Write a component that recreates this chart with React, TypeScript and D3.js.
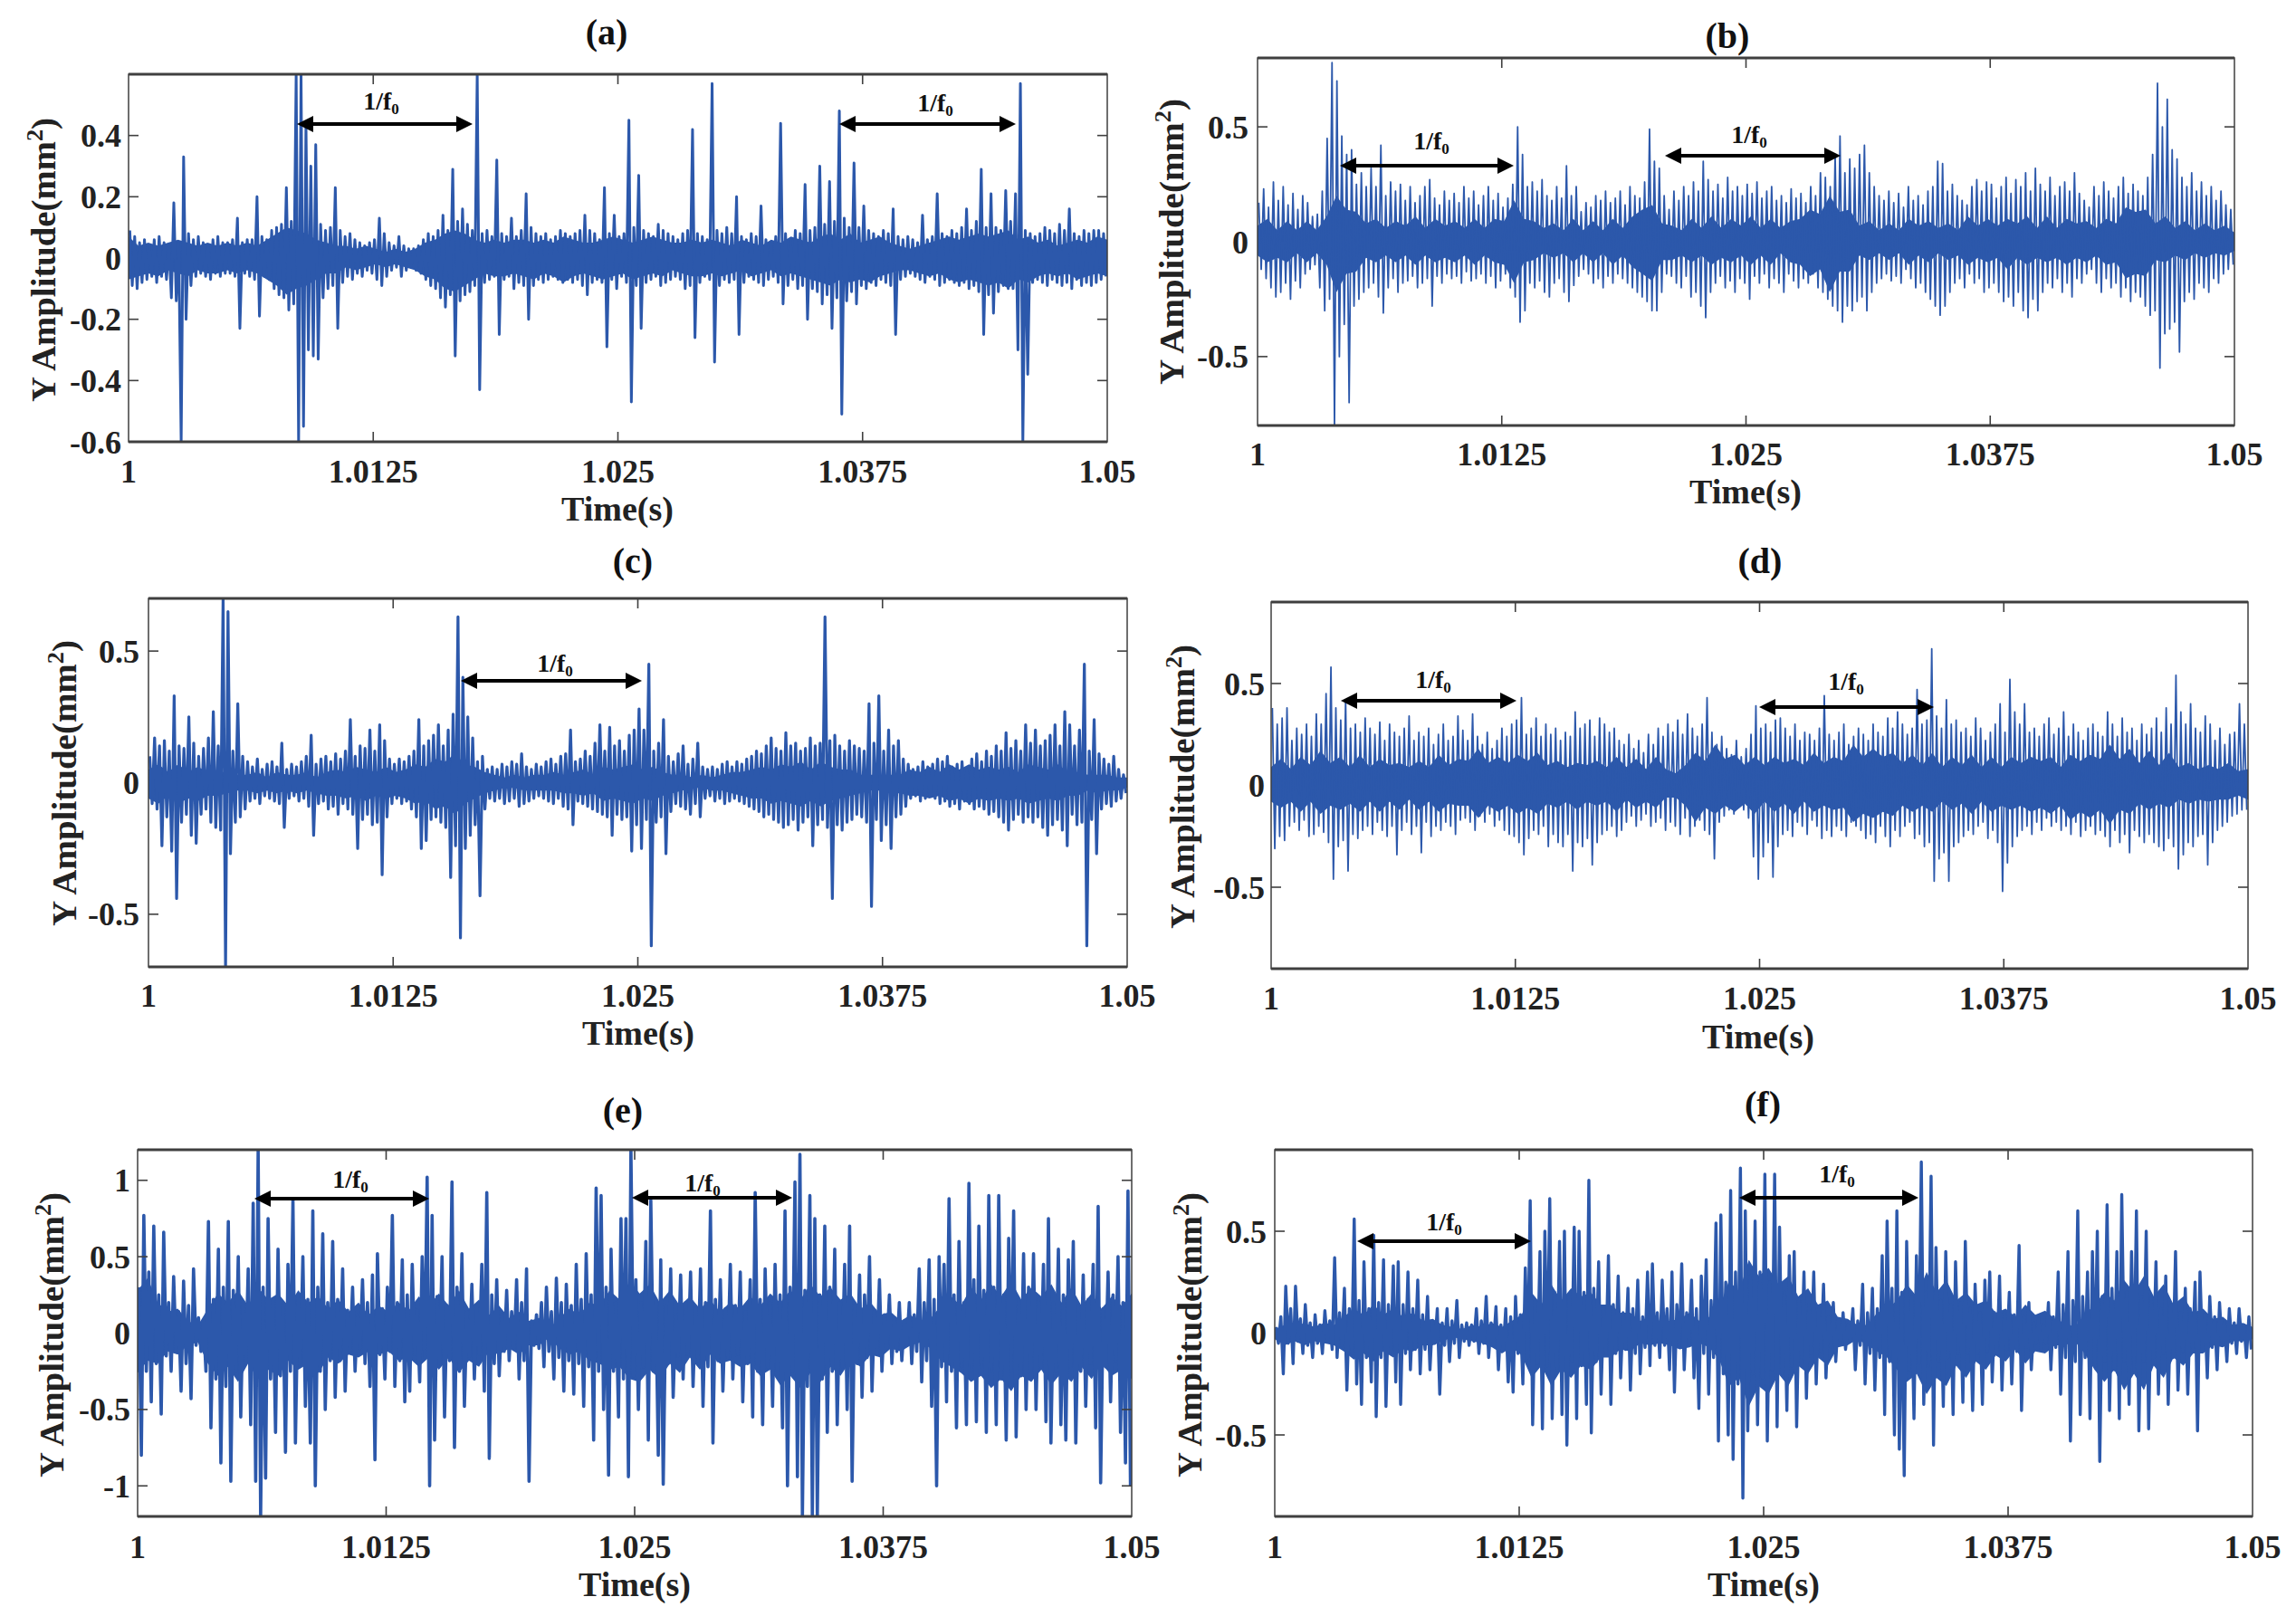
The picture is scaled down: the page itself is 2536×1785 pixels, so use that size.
import React from "react";
import * as d3 from "d3";

// Amplitudes are in units of 0.01 mm^2, one high/low pair per time bin (200 bins over 1..1.05 s)
const aHigh = [9,7,5,6,4,6,7,5,4,18,5,33,8,6,7,5,4,6,7,5,
5,6,13,5,6,6,20,7,6,9,10,11,23,12,60,60,44,30,37,11,
9,10,23,9,7,8,6,5,4,5,6,13,8,5,4,7,4,3,3,4,
6,8,7,9,14,9,29,12,16,11,9,60,8,9,7,32,8,7,13,7,
9,21,10,8,7,8,6,7,9,8,7,8,9,14,9,8,6,23,8,14,
7,8,45,10,27,9,8,7,11,9,8,7,6,8,9,42,8,7,6,57,
9,8,10,8,20,7,6,8,7,17,6,5,7,44,8,6,9,8,24,9,
10,30,11,25,12,48,13,10,31,10,17,9,8,7,9,8,16,7,6,7,
6,5,14,6,7,21,8,7,9,8,10,16,9,12,29,10,21,10,9,22,
12,21,57,9,8,7,8,10,9,8,11,9,16,8,7,9,8,9,9,8];
const aLow = [-9,-10,-8,-7,-6,-8,-6,-7,-13,-14,-60,-20,-9,-6,-5,-6,-7,-5,-6,-5,
-5,-6,-23,-5,-6,-7,-19,-6,-7,-10,-12,-13,-17,-15,-60,-55,-30,-32,-33,-13,
-10,-9,-23,-8,-6,-7,-5,-6,-4,-5,-7,-9,-6,-4,-3,-6,-4,-3,-4,-5,
-7,-9,-10,-13,-16,-12,-32,-14,-12,-11,-9,-43,-8,-7,-6,-25,-7,-6,-10,-8,
-9,-20,-9,-7,-8,-7,-6,-7,-8,-7,-8,-7,-9,-12,-8,-7,-8,-29,-7,-10,
-6,-8,-47,-9,-23,-8,-7,-6,-9,-8,-7,-6,-7,-10,-9,-26,-8,-6,-7,-34,
-9,-7,-8,-7,-25,-8,-6,-7,-8,-9,-7,-6,-8,-15,-9,-7,-10,-9,-20,-10,
-11,-15,-12,-23,-13,-51,-14,-11,-15,-9,-10,-8,-9,-7,-8,-9,-25,-7,-6,-5,
-6,-7,-8,-6,-7,-9,-8,-7,-8,-9,-8,-10,-9,-11,-25,-12,-18,-11,-9,-10,
-10,-30,-60,-38,-8,-7,-8,-9,-7,-8,-9,-8,-10,-7,-9,-8,-9,-8,-7,-6];
const aCoreHigh = [7,4,5,4,5,6,5,4,5,4,5,4,5,4,6,8,10,9,8,6,5,4,4,3,4,3,2,3,2,3,5,6,8,9,8,6,5,6,5,6,6,5,6,5,7,6,5,5,6,7,6,5,6,7,6,5,5,6,5,6,5,4,6,5,4,6,5,7,6,5,7,8,6,8,5,6,7,5,4,3,4,5,6,7,6,7,8,7,8,9,6,7,5,6,4,5,6,5,7,6];
const aCoreLow = [-7,-6,-5,-6,-4,-5,-6,-4,-5,-5,-4,-5,-4,-5,-7,-9,-12,-10,-9,-7,-5,-5,-3,-4,-3,-2,-3,-2,-3,-4,-6,-7,-10,-11,-9,-7,-5,-6,-6,-5,-6,-7,-5,-6,-8,-6,-5,-6,-7,-6,-5,-7,-6,-5,-6,-4,-5,-6,-6,-5,-6,-5,-4,-6,-5,-4,-6,-5,-6,-7,-8,-9,-7,-8,-7,-8,-6,-5,-4,-4,-5,-6,-5,-7,-8,-7,-8,-9,-8,-10,-7,-8,-6,-5,-6,-5,-7,-6,-5,-6];

const bHigh = [17,23,15,26,18,24,16,21,14,20,17,11,12,22,45,78,70,46,38,40,
25,30,24,32,24,42,20,26,22,25,18,24,17,20,24,27,19,16,22,18,
21,17,24,19,22,16,20,24,18,21,15,19,25,50,38,24,26,22,27,20,
18,24,19,33,20,24,13,17,15,20,18,22,17,19,22,16,24,20,19,26,
49,35,32,20,14,22,18,24,20,26,22,35,27,22,25,19,28,22,24,20,
25,21,26,19,22,24,18,20,17,23,19,21,17,24,20,30,28,24,38,46,
30,36,32,38,42,30,24,20,18,22,17,21,15,24,18,20,16,22,24,35,
34,22,25,20,18,16,24,27,22,26,25,19,24,28,21,27,24,30,22,32,
25,22,28,20,24,26,22,30,21,18,15,24,20,26,22,19,24,28,21,25,
22,20,28,38,69,50,62,40,36,28,24,30,22,26,20,24,18,22,16,14];
const bLow = [-12,-16,-20,-24,-22,-18,-25,-17,-20,-14,-12,-10,-20,-30,-25,-80,-50,-36,-70,-28,
-25,-22,-20,-18,-24,-31,-20,-16,-22,-18,-17,-15,-20,-18,-16,-28,-15,-18,-14,-16,
-15,-18,-13,-17,-16,-14,-18,-15,-20,-17,-14,-20,-24,-35,-30,-18,-20,-17,-22,-24,
-18,-16,-22,-26,-19,-15,-12,-14,-18,-16,-20,-15,-18,-14,-16,-18,-20,-22,-24,-26,
-30,-30,-22,-14,-15,-18,-20,-15,-24,-22,-28,-33,-22,-18,-15,-20,-17,-22,-16,-18,
-25,-15,-18,-14,-20,-16,-18,-22,-14,-17,-20,-16,-18,-14,-20,-22,-25,-28,-30,-35,
-28,-30,-26,-24,-30,-22,-18,-16,-14,-17,-15,-18,-12,-16,-20,-18,-22,-25,-28,-32,
-28,-22,-18,-16,-20,-14,-18,-16,-22,-20,-18,-22,-26,-24,-28,-22,-30,-33,-25,-30,
-22,-18,-20,-16,-22,-18,-24,-16,-18,-14,-12,-18,-22,-16,-20,-18,-24,-20,-26,-22,
-24,-28,-32,-30,-55,-40,-38,-35,-48,-26,-22,-25,-18,-20,-22,-16,-18,-14,-12,-10];
const bCoreHigh = [7,10,5,9,5,9,5,11,20,14,13,8,10,6,9,7,11,6,10,7,9,6,10,6,10,9,18,10,9,6,8,5,10,5,9,5,10,6,11,14,16,8,7,5,10,6,11,6,10,7,11,6,10,6,9,10,14,12,20,13,14,7,9,5,8,5,10,7,9,6,8,5,11,7,10,7,10,8,11,6,11,6,10,8,9,6,10,8,15,13,14,8,11,6,9,5,8,5,7,4];
const bCoreLow = [-6,-9,-7,-9,-5,-9,-5,-10,-22,-14,-13,-7,-9,-6,-9,-6,-10,-6,-9,-7,-9,-6,-10,-6,-9,-10,-18,-9,-8,-5,-7,-5,-9,-5,-9,-5,-10,-6,-11,-14,-17,-8,-8,-6,-9,-6,-10,-7,-9,-6,-10,-6,-10,-5,-9,-10,-15,-12,-22,-13,-13,-6,-8,-5,-8,-5,-10,-6,-9,-5,-8,-6,-10,-7,-9,-7,-12,-7,-10,-7,-9,-7,-10,-7,-9,-6,-10,-9,-16,-14,-15,-8,-9,-6,-8,-5,-7,-5,-6,-4];

const cHigh = [10,17,14,16,12,33,14,13,25,15,10,13,17,27,14,70,65,12,30,10,
8,6,9,5,7,8,6,15,5,7,6,8,10,18,7,9,10,8,11,9,
12,24,10,14,13,20,12,22,16,9,7,9,8,10,12,24,14,16,18,22,
14,20,26,63,40,25,17,8,10,5,6,5,7,6,8,7,11,6,5,7,
6,8,9,7,10,11,20,8,9,12,10,15,22,12,21,14,16,12,18,20,
28,20,45,12,15,24,10,8,11,14,7,9,15,6,5,6,5,7,8,6,
8,7,9,10,12,11,14,17,13,12,19,14,15,12,13,17,14,15,63,16,
18,14,12,16,14,13,12,30,15,33,12,20,14,16,9,7,5,6,8,6,
7,9,8,10,6,7,8,5,9,11,8,12,10,14,12,19,13,16,12,22,
15,20,14,16,18,22,14,27,22,14,20,45,12,24,11,9,7,10,5,3];
const cLow = [-8,-10,-24,-13,-26,-44,-15,-12,-20,-23,-12,-10,-15,-17,-18,-70,-27,-15,-13,-10,
-7,-6,-8,-5,-6,-7,-8,-17,-6,-5,-7,-6,-9,-20,-8,-7,-10,-9,-12,-8,
-10,-12,-25,-14,-12,-16,-15,-35,-13,-8,-6,-8,-7,-10,-13,-25,-22,-14,-13,-15,
-17,-36,-24,-59,-25,-20,-16,-43,-10,-6,-7,-6,-8,-7,-6,-9,-8,-7,-6,-5,
-6,-7,-8,-6,-9,-10,-16,-7,-8,-9,-10,-11,-12,-13,-20,-12,-14,-13,-26,-16,
-25,-14,-62,-15,-13,-27,-11,-8,-9,-10,-12,-8,-13,-6,-5,-7,-6,-8,-7,-6,
-7,-8,-9,-10,-11,-13,-12,-14,-15,-17,-16,-14,-18,-15,-13,-24,-16,-14,-17,-44,
-16,-18,-15,-14,-12,-13,-15,-47,-14,-22,-16,-25,-13,-12,-9,-6,-5,-7,-6,-5,
-6,-8,-7,-9,-8,-10,-7,-8,-10,-9,-10,-12,-11,-13,-15,-18,-14,-12,-15,-13,
-15,-13,-17,-20,-16,-14,-18,-24,-12,-16,-15,-62,-14,-27,-10,-8,-9,-7,-6,-4];
const cCoreHigh = [5,7,4,7,4,6,4,4,4,3,3,4,2,4,3,3,4,2,4,5,4,6,5,4,6,4,5,7,6,9,8,11,7,6,4,3,2,3,2,3,3,4,3,4,5,3,6,5,6,7,5,6,4,3,3,2,3,2,3,4,4,5,6,5,7,6,8,5,8,6,5,5,3,3,3,3,3,5,4,6,4,7,5,7,5,6,5,6,4,7,6,5,7,4,4,3,3,3,2,2];
const cCoreLow = [-6,-8,-5,-8,-6,-7,-5,-5,-4,-3,-3,-4,-3,-4,-3,-4,-3,-4,-5,-5,-6,-5,-7,-5,-6,-5,-6,-8,-7,-10,-9,-12,-8,-6,-4,-3,-2,-2,-3,-3,-3,-3,-4,-4,-5,-4,-7,-6,-7,-8,-6,-7,-5,-4,-3,-2,-2,-3,-3,-4,-5,-6,-6,-8,-7,-8,-9,-7,-9,-7,-6,-5,-4,-3,-3,-4,-4,-5,-5,-6,-5,-7,-6,-8,-6,-7,-6,-7,-6,-8,-7,-6,-7,-5,-5,-3,-4,-3,-3,-2];

const dHigh = [38,30,33,38,22,28,25,30,24,35,30,45,58,38,32,42,28,30,26,33,
28,25,31,22,30,26,24,28,34,22,26,24,28,20,25,30,22,24,34,27,
22,35,24,20,26,18,22,28,24,30,32,43,25,28,33,24,30,25,28,22,
26,24,36,28,30,32,24,33,30,26,28,22,20,25,18,22,16,25,20,28,
24,30,26,32,25,35,28,24,30,43,26,20,24,18,15,22,14,18,25,39,
28,30,26,32,33,28,24,30,22,26,25,22,28,44,25,22,26,30,20,24,
28,25,22,30,26,24,33,28,36,30,25,28,47,30,32,67,34,28,42,30,
32,26,28,24,33,28,22,26,30,40,26,52,36,30,40,26,28,24,30,33,
25,28,36,24,30,26,22,28,30,26,24,36,30,24,33,26,28,22,30,25,
28,33,26,38,30,54,36,30,40,28,26,34,30,22,28,20,25,26,40,30];
const dLow = [-31,-25,-27,-20,-18,-22,-17,-25,-24,-20,-23,-28,-46,-30,-27,-42,-24,-26,-22,-20,
-24,-18,-22,-25,-20,-34,-22,-18,-24,-20,-33,-18,-25,-20,-22,-18,-20,-24,-17,-16,
-18,-22,-15,-18,-14,-20,-17,-22,-24,-25,-28,-34,-26,-22,-24,-20,-30,-24,-28,-30,
-24,-42,-28,-30,-26,-39,-28,-24,-22,-20,-25,-22,-18,-15,-20,-17,-14,-20,-18,-16,
-22,-18,-20,-24,-16,-25,-20,-17,-22,-24,-36,-18,-15,-12,-14,-10,-12,-16,-35,-46,
-35,-28,-45,-30,-24,-22,-25,-18,-20,-24,-17,-20,-26,-22,-25,-20,-22,-25,-18,-20,
-22,-26,-24,-28,-20,-25,-30,-22,-25,-20,-18,-26,-24,-30,-28,-47,-36,-33,-47,-30,
-28,-25,-22,-24,-20,-18,-26,-22,-28,-52,-38,-30,-25,-22,-20,-24,-18,-22,-16,-20,
-18,-22,-20,-24,-18,-25,-22,-20,-24,-22,-25,-30,-22,-28,-24,-33,-22,-25,-28,-24,
-28,-30,-32,-26,-30,-41,-34,-28,-30,-25,-24,-39,-28,-22,-20,-18,-15,-14,-12,-12];
const dCoreHigh = [9,13,8,14,10,17,11,14,9,15,9,13,10,11,9,12,9,15,10,13,12,18,11,14,11,15,12,16,10,12,9,11,10,12,9,14,9,13,8,14,8,6,10,16,12,20,13,15,10,14,10,14,11,13,10,16,11,14,12,20,14,18,14,16,11,15,10,16,9,14,10,15,9,14,9,14,11,14,12,14,9,15,12,15,13,20,13,18,11,17,10,16,9,11,8,10,8,11,7,8];
const dCoreLow = [-8,-11,-8,-13,-8,-14,-10,-12,-9,-13,-8,-13,-8,-12,-7,-12,-8,-13,-9,-10,-10,-16,-10,-13,-10,-14,-11,-14,-9,-11,-8,-12,-8,-10,-8,-13,-7,-11,-8,-11,-6,-6,-10,-18,-11,-14,-10,-13,-9,-14,-8,-13,-9,-14,-8,-13,-10,-12,-11,-18,-14,-16,-13,-15,-10,-13,-10,-13,-8,-12,-9,-14,-8,-13,-10,-12,-10,-13,-11,-14,-10,-17,-13,-16,-12,-19,-12,-14,-9,-12,-9,-11,-7,-9,-7,-8,-7,-7,-5,-7];

const eHigh = [30,77,40,70,25,66,20,37,14,34,18,42,10,8,73,22,55,30,73,28,
50,20,42,85,120,30,75,22,55,18,45,87,25,50,22,80,30,65,20,60,
22,42,15,30,12,35,20,38,52,16,30,77,20,48,25,45,15,50,102,77,
24,50,18,99,30,52,14,32,18,45,92,25,35,12,28,14,35,20,42,8,
12,20,30,14,36,20,32,18,45,22,52,25,95,90,30,55,20,75,75,120,
35,20,60,87,22,48,18,42,12,38,20,40,16,42,20,80,22,35,16,45,
18,40,14,35,92,22,42,20,45,25,80,30,99,117,28,90,75,25,70,30,
55,20,45,70,18,38,25,50,15,35,12,25,10,20,8,20,12,42,20,48,
22,50,45,88,25,60,20,98,35,70,28,90,30,90,25,62,80,22,52,30,
52,22,45,75,20,55,25,48,60,18,38,22,45,83,16,40,25,50,20,93];
const eLow = [-80,-25,-45,-20,-53,-15,-25,-12,-38,-20,-43,-8,-12,-25,-62,-30,-85,-35,-97,-25,
-55,-20,-60,-97,-120,-95,-30,-65,-28,-78,-25,-72,-20,-48,-72,-100,-25,-50,-18,-42,
-18,-38,-12,-25,-10,-20,-35,-83,-14,-30,-12,-35,-18,-45,-38,-14,-32,-16,-100,-70,
-20,-55,-18,-75,-25,-48,-15,-30,-14,-38,-82,-20,-28,-12,-18,-10,-30,-18,-97,-8,
-10,-22,-12,-30,-16,-38,-18,-40,-20,-48,-22,-70,-25,-50,-93,-25,-55,-30,-94,-28,
-50,-22,-70,-25,-80,-99,-20,-42,-15,-30,-14,-35,-18,-48,-22,-72,-18,-38,-16,-30,
-14,-45,-20,-55,-25,-60,-22,-48,-28,-62,-100,-25,-94,-120,-35,-120,-120,-30,-65,-25,
-60,-22,-50,-97,-20,-42,-16,-38,-14,-25,-10,-20,-12,-18,-8,-20,-12,-32,-18,-48,
-100,-22,-45,-25,-62,-22,-60,-25,-58,-22,-65,-25,-60,-30,-70,-25,-68,-28,-50,-25,
-50,-22,-58,-72,-25,-60,-70,-22,-72,-25,-48,-20,-62,-98,-22,-45,-18,-65,-85,-100];
const eCoreHigh = [28,36,20,14,16,8,5,16,26,20,28,18,30,22,26,18,28,20,24,16,22,14,20,12,18,14,20,15,24,18,26,18,28,16,22,12,18,10,14,8,10,3,10,16,12,20,18,28,22,34,26,32,20,28,18,24,16,22,14,20,16,24,18,26,20,28,22,32,24,30,22,26,16,20,12,14,8,12,5,10,18,24,18,30,22,32,24,34,22,30,24,32,20,30,18,26,16,24,18,26];
const eCoreLow = [-26,-18,-20,-12,-14,-8,-6,-20,-28,-22,-32,-20,-30,-24,-28,-18,-24,-20,-26,-16,-20,-14,-16,-12,-14,-12,-18,-16,-22,-16,-24,-16,-26,-18,-22,-12,-14,-10,-14,-8,-8,-3,-10,-14,-12,-18,-20,-24,-22,-30,-32,-24,-30,-20,-26,-16,-24,-14,-20,-18,-22,-20,-28,-24,-34,-28,-36,-26,-32,-22,-28,-18,-22,-14,-16,-10,-12,-8,-6,-10,-18,-22,-26,-32,-28,-36,-30,-38,-28,-32,-24,-34,-26,-32,-22,-30,-20,-28,-24,-30];

const fHigh = [3,8,23,12,23,7,14,5,9,4,11,6,37,10,22,12,56,16,35,12,
48,15,36,14,33,35,14,30,12,26,9,18,6,12,5,12,6,16,4,5,
4,12,6,18,5,13,4,12,8,18,9,32,65,16,40,50,66,20,45,50,
18,52,50,20,75,22,35,12,38,14,28,10,22,12,26,8,30,34,10,26,
12,30,14,34,10,26,12,28,36,16,54,58,25,70,30,81,60,28,55,30,
78,25,78,52,20,38,40,16,30,14,30,12,24,8,15,7,10,4,12,6,
24,10,22,12,38,55,22,60,20,45,18,38,84,20,77,42,16,40,14,35,
15,45,12,24,10,26,30,10,28,10,20,9,43,8,15,5,7,4,15,8,
30,14,40,16,60,18,30,40,50,18,63,22,40,68,20,40,60,18,50,18,
35,12,28,14,40,10,22,12,25,30,9,18,8,15,6,12,5,12,4,8];
const fLow = [-5,-20,-5,-15,-4,-10,-6,-12,-5,-10,-4,-8,-12,-6,-28,-10,-25,-35,-12,-24,
-41,-12,-36,-10,-24,-35,-10,-18,-8,-20,-8,-18,-5,-30,-6,-14,-5,-12,-4,-6,
-4,-10,-5,-12,-6,-18,-8,-24,-29,-10,-25,-12,-45,-15,-47,-16,-42,-18,-40,-55,
-14,-42,-16,-35,-49,-14,-30,-10,-35,-10,-22,-8,-28,-10,-20,-7,-16,-6,-12,-6,
-18,-29,-6,-18,-5,-22,-37,-10,-30,-12,-53,-20,-50,-62,-25,-81,-48,-20,-45,-22,
-53,-18,-46,-20,-38,-16,-46,-12,-32,-10,-25,-9,-22,-7,-14,-5,-8,-4,-18,-6,
-25,-10,-28,-12,-40,-14,-50,-57,-70,-18,-42,-15,-35,-16,-55,-14,-36,-12,-40,-10,
-34,-10,-38,-10,-35,-9,-24,-10,-28,-8,-25,-9,-38,-7,-18,-5,-8,-5,-18,-7,
-30,-12,-53,-14,-40,-12,-42,-16,-63,-14,-38,-18,-42,-14,-35,-18,-48,-14,-47,-12,
-30,-10,-35,-12,-28,-9,-30,-8,-48,-8,-22,-7,-18,-6,-14,-5,-10,-4,-12,-8];
const fCoreHigh = [2,4,3,5,3,5,4,8,12,9,14,9,12,8,10,6,7,4,3,2,4,3,5,3,6,9,20,14,24,16,22,18,20,14,14,10,10,6,8,6,6,7,10,6,8,12,26,20,36,28,32,24,28,18,22,14,16,8,7,4,4,10,12,16,24,18,30,20,26,16,20,14,16,10,12,8,14,9,11,7,5,3,9,14,20,16,26,20,28,18,24,14,18,10,12,7,8,4,5,3];
const fCoreLow = [-3,-6,-4,-6,-4,-5,-6,-9,-13,-10,-14,-9,-12,-8,-9,-6,-6,-4,-2,-3,-4,-5,-7,-10,-7,-11,-22,-16,-26,-18,-22,-16,-18,-12,-12,-8,-9,-5,-6,-5,-6,-8,-7,-5,-7,-13,-26,-22,-36,-26,-30,-20,-26,-16,-20,-12,-16,-7,-6,-3,-6,-9,-12,-18,-24,-20,-30,-22,-26,-16,-22,-14,-18,-11,-14,-8,-15,-9,-10,-6,-6,-4,-10,-18,-24,-18,-28,-20,-28,-16,-22,-12,-16,-10,-10,-6,-7,-4,-4,-3];

const xTicks = [1, 1.0125, 1.025, 1.0375, 1.05];
const xTickLabels = ["1", "1.0125", "1.025", "1.0375", "1.05"];
const yTicksA = [-0.6, -0.4, -0.2, 0, 0.2, 0.4];
const yTicksHalf = [-0.5, 0, 0.5];
const yTicksE = [-1, -0.5, 0, 0.5, 1];

const BLUE = "#2c58ab";
const FRAME = "#3f3f3f";
const SERIF = "'Liberation Serif', 'Times New Roman', serif";

type Arrow = { x0: number; x1: number; y: number; lx: number; ly: number };
type Panel = {
  name: string; high: number[]; low: number[]; coreHigh: number[]; coreLow: number[]; yMax: number; yTicks: number[];
  box: [number, number, number, number]; sw: number;
  titleX: number; titleY: number; tickY: number; timeX: number; timeY: number; yTickX: number;
  yLabelX: number; yLabelY0: number; yLabelY1: number; arrows: Arrow[];
};

const panels: Panel[] = [
  { name: "(a)", high: aHigh, low: aLow, coreHigh: aCoreHigh, coreLow: aCoreLow, yMax: 0.6, yTicks: yTicksA, box: [142, 82, 1223, 488], sw: 3,
    titleX: 670, titleY: 35, tickY: 520, timeX: 682, timeY: 562, yTickX: 134, yLabelX: 48, yLabelY0: 130, yLabelY1: 444,
    arrows: [{ x0: 328, x1: 522, y: 137, lx: 421, ly: 111 }, { x0: 927, x1: 1122, y: 137, lx: 1033, ly: 113 }] },
  { name: "(b)", high: bHigh, low: bLow, coreHigh: bCoreHigh, coreLow: bCoreLow, yMax: 0.8, yTicks: yTicksHalf, box: [1389, 64, 2468, 470], sw: 1.8,
    titleX: 1908, titleY: 39, tickY: 501, timeX: 1928, timeY: 543, yTickX: 1379, yLabelX: 1294, yLabelY0: 109, yLabelY1: 425,
    arrows: [{ x0: 1480, x1: 1672, y: 183, lx: 1581, ly: 155 }, { x0: 1839, x1: 2033, y: 172, lx: 1932, ly: 148 }] },
  { name: "(c)", high: cHigh, low: cLow, coreHigh: cCoreHigh, coreLow: cCoreLow, yMax: 0.7, yTicks: yTicksHalf, box: [164, 661, 1245, 1068], sw: 3.2,
    titleX: 699, titleY: 619, tickY: 1099, timeX: 705, timeY: 1141, yTickX: 154, yLabelX: 71, yLabelY0: 707, yLabelY1: 1023,
    arrows: [{ x0: 509, x1: 709, y: 752, lx: 613, ly: 732 }] },
  { name: "(d)", high: dHigh, low: dLow, coreHigh: dCoreHigh, coreLow: dCoreLow, yMax: 0.9, yTicks: yTicksHalf, box: [1404, 665, 2483, 1070], sw: 1.8,
    titleX: 1944, titleY: 619, tickY: 1102, timeX: 1942, timeY: 1145, yTickX: 1397, yLabelX: 1306, yLabelY0: 712, yLabelY1: 1026,
    arrows: [{ x0: 1481, x1: 1675, y: 774, lx: 1583, ly: 750 }, { x0: 1943, x1: 2136, y: 781, lx: 2039, ly: 752 }] },
  { name: "(e)", high: eHigh, low: eLow, coreHigh: eCoreHigh, coreLow: eCoreLow, yMax: 1.2, yTicks: yTicksE, box: [152, 1270, 1250, 1675], sw: 3.6,
    titleX: 688, titleY: 1226, tickY: 1708, timeX: 701, timeY: 1750, yTickX: 144, yLabelX: 57, yLabelY0: 1317, yLabelY1: 1632,
    arrows: [{ x0: 281, x1: 474, y: 1324, lx: 387, ly: 1302 }, { x0: 698, x1: 875, y: 1323, lx: 776, ly: 1306 }] },
  { name: "(f)", high: fHigh, low: fLow, coreHigh: fCoreHigh, coreLow: fCoreLow, yMax: 0.9, yTicks: yTicksHalf, box: [1408, 1270, 2488, 1675], sw: 3.4,
    titleX: 1947, titleY: 1219, tickY: 1708, timeX: 1948, timeY: 1750, yTickX: 1399, yLabelX: 1314, yLabelY0: 1317, yLabelY1: 1632,
    arrows: [{ x0: 1499, x1: 1691, y: 1371, lx: 1595, ly: 1349 }, { x0: 1921, x1: 2119, y: 1323, lx: 2029, ly: 1296 }] },
];

function ArrowMark({ a }: { a: Arrow }) {
  const h = 18, w = 9;
  return (
    <g>
      <line x1={a.x0 + h - 2} x2={a.x1 - h + 2} y1={a.y} y2={a.y} stroke="#000" strokeWidth={4} />
      <path d={`M${a.x0},${a.y}L${a.x0 + h},${a.y - w}L${a.x0 + h},${a.y + w}Z`} fill="#000" />
      <path d={`M${a.x1},${a.y}L${a.x1 - h},${a.y - w}L${a.x1 - h},${a.y + w}Z`} fill="#000" />
      <text x={a.lx} y={a.ly} dy="0.35em" textAnchor="middle" fontFamily={SERIF} fontWeight="bold" fontSize={28} fill="#111">
        1/f<tspan fontSize={17} dy={5}>0</tspan>
      </text>
    </g>
  );
}

function Chart({ p, idx }: { p: Panel; idx: number }) {
  const [x0, y0, x1, y1] = p.box;
  const x = d3.scaleLinear().domain([1, 1.05]).range([x0, x1]);
  const y = d3.scaleLinear().domain([-p.yMax, p.yMax]).range([y1, y0]);
  const n = Math.min(p.high.length, p.low.length);
  const pts: [number, number][] = [];
  for (let i = 0; i < n; i++) {
    pts.push([1 + (0.05 * (i + 0.25)) / n, p.high[i] / 100]);
    pts.push([1 + (0.05 * (i + 0.75)) / n, p.low[i] / 100]);
  }
  const line = d3.line<[number, number]>().x((d) => x(d[0])).y((d) => y(d[1]));
  const m = Math.min(p.coreHigh.length, p.coreLow.length);
  const coreBins = d3.range(m);
  const area = d3.area<number>()
    .x((i) => x(1 + (0.05 * i) / (m - 1)))
    .y0((i) => y(p.coreLow[i] / 100))
    .y1((i) => y(p.coreHigh[i] / 100))(coreBins);
  const clip = `clip-${idx}`;
  const tick = 11;
  return (
    <g>
      <clipPath id={clip}><rect x={x0} y={y0} width={x1 - x0} height={y1 - y0} /></clipPath>
      <g clipPath={`url(#${clip})`}>
        <path d={area || ""} fill={BLUE} />
        <path d={line(pts) || ""} fill="none" stroke={BLUE} strokeWidth={p.sw} strokeLinejoin="round" />
      </g>
      <rect x={x0} y={y0} width={x1 - x0} height={y1 - y0} fill="none" stroke={FRAME} strokeWidth={1.5} />
      <line x1={x0} x2={x1} y1={y0} y2={y0} stroke={FRAME} strokeWidth={3} />
      <line x1={x0} x2={x1} y1={y1} y2={y1} stroke={FRAME} strokeWidth={3} />
      {xTicks.slice(1, -1).map((t) => (
        <g key={t} stroke={FRAME} strokeWidth={1.6}>
          <line x1={x(t)} x2={x(t)} y1={y0} y2={y0 + tick} />
          <line x1={x(t)} x2={x(t)} y1={y1} y2={y1 - tick} />
        </g>
      ))}
      {p.yTicks.filter((t) => t !== 0 && Math.abs(t) < p.yMax).map((t) => (
        <g key={t} stroke={FRAME} strokeWidth={1.6}>
          <line x1={x0} x2={x0 + tick} y1={y(t)} y2={y(t)} />
          <line x1={x1} x2={x1 - tick} y1={y(t)} y2={y(t)} />
        </g>
      ))}
      <g fontFamily={SERIF} fontWeight="bold" fill="#222">
        {xTicks.map((t, i) => (
          <text key={t} x={x(t)} y={p.tickY} dy="0.35em" textAnchor="middle" fontSize={36}>{xTickLabels[i]}</text>
        ))}
        {p.yTicks.map((t) => (
          <text key={t} x={p.yTickX} y={y(t)} dy="0.35em" textAnchor="end" fontSize={36}>{String(t)}</text>
        ))}
        <text x={p.timeX} y={p.timeY} dy="0.35em" textAnchor="middle" fontSize={38}>Time(s)</text>
        <text x={p.titleX} y={p.titleY} dy="0.35em" textAnchor="middle" fontSize={40} fill="#111">{p.name}</text>
        <text
          transform={`translate(${p.yLabelX},${(p.yLabelY0 + p.yLabelY1) / 2}) rotate(-90)`}
          textAnchor="middle" dy="0.35em" fontSize={37}
          textLength={p.yLabelY1 - p.yLabelY0} lengthAdjust="spacingAndGlyphs"
        >
          Y Amplitude(mm<tspan fontSize={25} dy={-14}>2</tspan><tspan dy={14}>)</tspan>
        </text>
      </g>
      {p.arrows.map((a, i) => <ArrowMark key={i} a={a} />)}
    </g>
  );
}

export default function App() {
  return (
    <svg width={2536} height={1785} viewBox="0 0 2536 1785"
      style={{ position: "absolute", left: 0, top: 0, display: "block", background: "#fff" }}>
      {panels.map((p, i) => <Chart key={p.name} p={p} idx={i} />)}
    </svg>
  );
}
